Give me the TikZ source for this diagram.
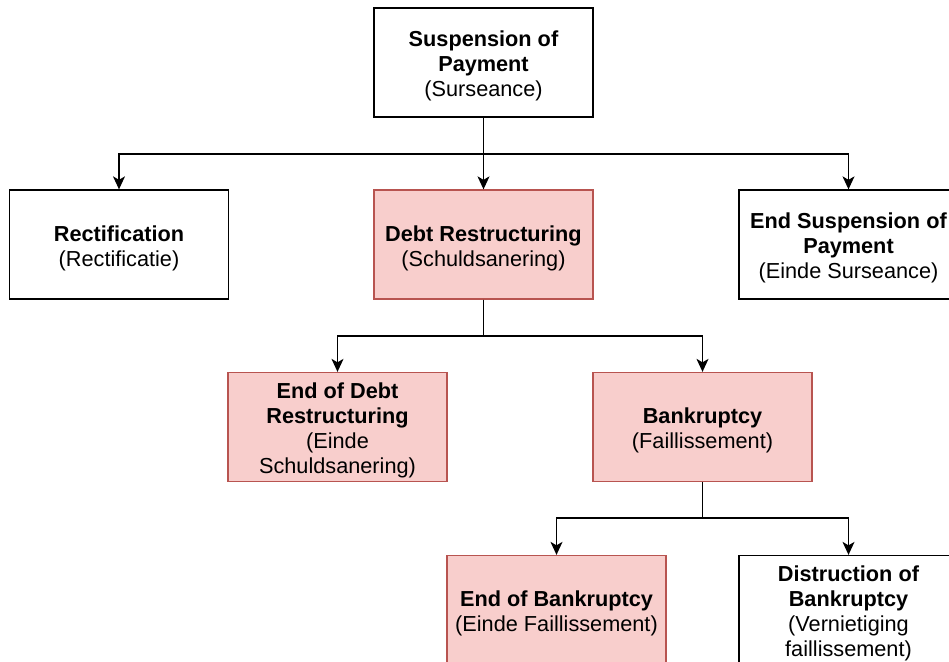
\documentclass[tikz,border=0pt]{standalone}
\usepackage{fontspec}
\setmainfont{Liberation Sans}
\usetikzlibrary{arrows.meta}
\definecolor{pinkfill}{HTML}{F8CECC}
\definecolor{pinkline}{HTML}{B85450}
\newcommand{\bxtext}[1]{\raisebox{-4pt}[\height][\depth]{\begin{tabular}{@{}c@{}}#1\end{tabular}}}
\begin{document}
\begin{tikzpicture}[x=1pt,y=-1pt,
  box/.style={draw=black,line width=1.3pt,fill=white,minimum width=219pt,minimum height=109pt,
    inner sep=0pt,font=\fontsize{21.7}{25}\selectfont},
  pinkbox/.style={box,draw=pinkline,fill=pinkfill},
  conn/.style={line width=1.3pt,draw=black,-{Stealth[length=13pt,width=12pt,inset=3.5pt]}}]
\useasboundingbox (0,0) rectangle (949,661);
\clip (0,0) rectangle (949,661);
\fill[white] (0,0) rectangle (949,661);

\node[box] (top) at (483.5,62.5) {\bxtext{\textbf{Suspension of}\\\textbf{Payment}\\(Surseance)}};
\node[box] (rect) at (119,244.5) {\bxtext{\textbf{Rectification}\\(Rectificatie)}};
\node[pinkbox] (debt) at (483.5,244.5) {\bxtext{\textbf{Debt Restructuring}\\(Schuldsanering)}};
\node[box] (endsusp) at (848.5,244.5) {\bxtext{\textbf{End Suspension of}\\\textbf{Payment}\\(Einde Surseance)}};
\node[pinkbox] (enddebt) at (337.5,427) {\bxtext{\textbf{End of Debt}\\\textbf{Restructuring}\\(Einde\\Schuldsanering)}};
\node[pinkbox] (bank) at (702.5,427) {\bxtext{\textbf{Bankruptcy}\\(Faillissement)}};
\node[pinkbox] (endbank) at (556.5,610) {\bxtext{\textbf{End of Bankruptcy}\\(Einde Faillissement)}};
\node[box] (distr) at (848.5,610) {\bxtext{\textbf{Distruction of}\\\textbf{Bankruptcy}\\(Vernietiging\\faillissement)}};

\coordinate (j1) at (483.5,154);
\coordinate (j2) at (483.5,336);
\coordinate (j3) at (702.5,518);

\draw[conn] (top.south) -- (debt.north);
\draw[conn] (top.south) |- (j1) -| (rect.north);
\draw[conn] (top.south) |- (j1) -| (endsusp.north);

\draw[conn] (debt.south) |- (j2) -| (enddebt.north);
\draw[conn] (debt.south) |- (j2) -| (bank.north);

\draw[conn] (bank.south) |- (j3) -| (endbank.north);
\draw[conn] (bank.south) |- (j3) -| (distr.north);
\end{tikzpicture}
\end{document}
